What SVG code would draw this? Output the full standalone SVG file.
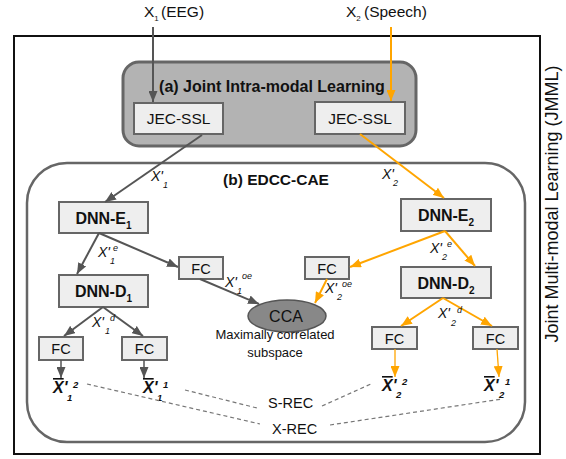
<svg xmlns="http://www.w3.org/2000/svg" width="566" height="459" viewBox="0 0 566 459">
<defs>
<marker id="ag" markerUnits="userSpaceOnUse" markerWidth="11" markerHeight="9" refX="11" refY="4.5" orient="auto"><path d="M0,0 L11,4.5 L0,9 z" fill="#555"/></marker>
<marker id="ao" markerUnits="userSpaceOnUse" markerWidth="11" markerHeight="9" refX="11" refY="4.5" orient="auto"><path d="M0,0 L11,4.5 L0,9 z" fill="#ffa500"/></marker>
<style>
text{font-family:"Liberation Sans",Arial,sans-serif;fill:#111}
.box{fill:#eeeeee;stroke:#666;stroke-width:2}
.t{font-size:15.5px;text-anchor:middle}
.b{font-size:16px;font-weight:bold;text-anchor:middle}
.fc{font-size:14.5px;text-anchor:middle}
.g{stroke:#555;stroke-width:2;fill:none;marker-end:url(#ag)}
.o{stroke:#ffa500;stroke-width:2;fill:none;marker-end:url(#ao)}
.d{stroke:#777;stroke-width:1.2;stroke-dasharray:4 3;fill:none}
.lab{font-size:14px;font-style:italic}
.s{font-size:9px;font-style:italic}
.xb{font-size:16px;font-style:italic;font-weight:bold}
.xs{font-size:9.5px;font-style:italic;font-weight:bold}
</style>
</defs>
<rect id="jmml" x="14" y="36" width="526" height="418" fill="#fff" stroke="#111" stroke-width="2"/>
<text x="558" y="204" font-size="18" text-anchor="middle" transform="rotate(-90 558 204)">Joint Multi-modal Learning (JMML)</text>
<g id="joint-intra">
<rect x="123" y="62" width="293" height="84" rx="16" fill="#b3b3b3" stroke="#666" stroke-width="3"/>
<text x="272" y="92" class="b">(a) Joint Intra-modal Learning</text>
</g>
<g id="edcc-cae">
<rect x="27" y="163" width="498" height="279" rx="40" fill="#fff" stroke="#666" stroke-width="2.5"/>
<text x="276" y="185" class="b" style="font-size:15.5px">(b) EDCC-CAE</text>
</g>
<g id="in1"><text x="144" y="17" font-size="15.5">X<tspan font-size="8" dy="4">1</tspan><tspan dy="-4" x="161">(EEG)</tspan></text></g>
<g id="in2"><text x="346" y="17" font-size="15.5">X<tspan font-size="8" dy="4">2</tspan><tspan dy="-4" x="364">(Speech)</tspan></text></g>
<g id="jec1"><rect class="box" x="134" y="103" width="89" height="31"/><text class="t" x="178.5" y="124">JEC-SSL</text></g>
<g id="jec2"><rect class="box" x="315" y="102" width="90" height="32"/><text class="t" x="360" y="124">JEC-SSL</text></g>
<g id="dnne1"><rect class="box" x="59" y="202" width="89" height="31"/><text class="b" x="103.5" y="224">DNN-E<tspan font-size="10" dy="5">1</tspan></text></g>
<g id="dnnd1"><rect class="box" x="59" y="275" width="89" height="32"/><text class="b" x="103.5" y="297">DNN-D<tspan font-size="10" dy="5">1</tspan></text></g>
<g id="dnne2"><rect class="box" x="401" y="199" width="90" height="32"/><text class="b" x="446" y="221">DNN-E<tspan font-size="10" dy="5">2</tspan></text></g>
<g id="dnnd2"><rect class="box" x="401" y="267" width="90" height="31"/><text class="b" x="446" y="289">DNN-D<tspan font-size="10" dy="5">2</tspan></text></g>
<g id="fc1e"><rect class="box" x="179" y="257" width="44" height="22"/><text class="fc" x="201" y="273.5">FC</text></g>
<g id="fc2e"><rect class="box" x="305" y="257" width="44" height="22"/><text class="fc" x="327" y="273.5">FC</text></g>
<g id="fc1a"><rect class="box" x="39" y="337" width="44" height="23"/><text class="fc" x="61" y="354">FC</text></g>
<g id="fc1b"><rect class="box" x="122" y="337" width="45" height="23"/><text class="fc" x="144.5" y="354">FC</text></g>
<g id="fc2a"><rect class="box" x="372" y="327" width="45" height="22"/><text class="fc" x="394.5" y="343.5">FC</text></g>
<g id="fc2b"><rect class="box" x="473" y="327" width="45" height="22"/><text class="fc" x="495.5" y="343.5">FC</text></g>
<g id="cca">
<ellipse cx="287" cy="316" rx="39" ry="16" fill="#888" stroke="#555" stroke-width="1.5"/>
<text x="286" y="322" font-size="16" text-anchor="middle">CCA</text>
<text x="275" y="339" font-size="13" text-anchor="middle">Maximally correlated</text>
<text x="275" y="357" font-size="13" text-anchor="middle">subspace</text>
</g>
<g id="out11"><text class="xb" x="53" y="393"><tspan text-decoration="overline">X</tspan>'</text><text class="xs" x="73" y="388">2</text><text class="xs" x="67" y="401">1</text></g>
<g id="out12"><text class="xb" x="143" y="393"><tspan text-decoration="overline">X</tspan>'</text><text class="xs" x="163" y="388">1</text><text class="xs" x="157" y="401">1</text></g>
<g id="out21"><text class="xb" x="382" y="391"><tspan text-decoration="overline">X</tspan>'</text><text class="xs" x="402" y="385">2</text><text class="xs" x="396" y="398">2</text></g>
<g id="out22"><text class="xb" x="484" y="391"><tspan text-decoration="overline">X</tspan>'</text><text class="xs" x="505" y="385">1</text><text class="xs" x="499" y="398">2</text></g>
<g id="rec">
<text x="268" y="408" font-size="14.5">S-REC</text>
<text x="272" y="434" font-size="14.5">X-REC</text>
</g>
<g id="connectors">
<line class="g" x1="153" y1="27" x2="153" y2="102"/>
<line class="g" x1="202" y1="135" x2="105" y2="202"/>
<line class="g" x1="99" y1="233" x2="77" y2="274"/>
<line class="g" x1="99" y1="233" x2="178" y2="267"/>
<line class="g" x1="200" y1="279" x2="259" y2="304"/>
<line class="g" x1="103" y1="307" x2="64" y2="336"/>
<line class="g" x1="103" y1="307" x2="143" y2="336"/>
<line class="g" x1="61" y1="360" x2="61" y2="378" style="stroke-width:1.5"/>
<line class="g" x1="144" y1="360" x2="144" y2="378" style="stroke-width:1.5"/>
<line class="o" x1="391" y1="27" x2="391" y2="101"/>
<line class="o" x1="360" y1="134" x2="444" y2="198"/>
<line class="o" x1="445" y1="231" x2="350" y2="267"/>
<line class="o" x1="445" y1="231" x2="475" y2="266"/>
<line class="o" x1="327" y1="279" x2="315" y2="303"/>
<line class="o" x1="443" y1="298" x2="401" y2="326"/>
<line class="o" x1="443" y1="298" x2="492" y2="326"/>
<line class="o" x1="395" y1="349" x2="395" y2="377" style="stroke-width:1.3"/>
<line class="o" x1="497" y1="349" x2="499" y2="377" style="stroke-width:1.3"/>
<line class="d" x1="87" y1="384" x2="260" y2="424"/>
<line class="d" x1="185" y1="390" x2="257" y2="408"/>
<line class="d" x1="322" y1="406" x2="373" y2="383"/>
<line class="d" x1="330" y1="425" x2="502" y2="399"/>
</g>
<g id="labels">
<text class="lab" x="151" y="181">X'</text><text class="s" x="163" y="188">1</text>
<text class="lab" x="382" y="179">X'</text><text class="s" x="393" y="186">2</text>
<text class="lab" x="98" y="257">X'</text><text class="s" x="113" y="251">e</text><text class="s" x="110" y="264">1</text>
<text class="lab" x="225" y="287">X'</text><text class="s" x="242" y="279">oe</text><text class="s" x="237" y="294">1</text>
<text class="lab" x="430" y="253">X'</text><text class="s" x="447" y="247">e</text><text class="s" x="442" y="260">2</text>
<text class="lab" x="325" y="293">X'</text><text class="s" x="342" y="287">oe</text><text class="s" x="337" y="300">2</text>
<text class="lab" x="92" y="327">X'</text><text class="s" x="110" y="321">d</text><text class="s" x="105" y="334">1</text>
<text class="lab" x="438" y="318">X'</text><text class="s" x="457" y="313">d</text><text class="s" x="451" y="326">2</text>
</g>
</svg>
